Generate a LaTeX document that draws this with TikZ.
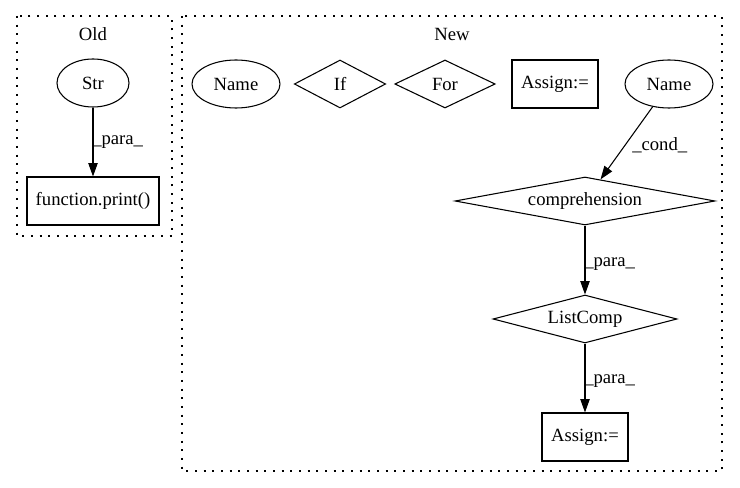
\documentclass[tikz,border=0pt]{standalone}
\usepackage{fontspec}
\setmainfont{Liberation Serif}
\usetikzlibrary{shapes.geometric,arrows.meta}
\begin{document}
\begin{tikzpicture}[x=0.75pt,y=-0.75pt,
  every node/.style={font=\fontsize{14}{16}\selectfont},
  base/.style={draw,line width=0.8pt,inner sep=0pt},
  ell/.style={base,ellipse,minimum height=36pt},
  boxnode/.style={base,rectangle,minimum height=36pt},
  dia/.style={base,diamond,aspect=6,minimum height=36pt},
  cluster/.style={draw,line width=0.8pt,dash pattern=on 1.5pt off 5pt},
  edge/.style={draw,line width=0.8pt,-{Triangle[length=10pt,width=7pt]}},
  lbl/.style={anchor=west,inner sep=0pt}]
\useasboundingbox (0,0) rectangle (740,488);

% clusters
\draw[cluster] (17,16) rectangle (172,236);
\node (oldtitle) at (93,34) {Old};
\draw[cluster] (182,16) rectangle (722,471);
\node (newtitle) at (452,34) {New};

% Old
\node[ell,minimum width=54pt] (str) at (93,83) {Str};
\node[boxnode,minimum width=99pt] (fprint) at (93,201) {function.print()};
\draw[edge] (str) -- (fprint);
\node[lbl] (l1) at (92,142) {\_para\_};

% New
\node[ell,minimum width=66pt] (name1) at (236,84) {Name};
\node[dia,minimum width=55.5pt] (if) at (340,84) {If};
\node[dia,minimum width=68pt] (for) at (445,84) {For};
\node[boxnode,minimum width=64.5pt] (assign1) at (555,84) {Assign:=};
\node[ell,minimum width=66pt] (name2) at (669,84) {Name};
\node[dia,minimum width=195pt] (comp) at (585,201) {comprehension};
\node[dia,minimum width=138pt] (lc) at (585,319) {ListComp};
\node[boxnode,minimum width=64.5pt] (assign2) at (585,437) {Assign:=};

\draw[edge] (name2) -- (comp);
\node[lbl] (l2) at (632,145) {\_cond\_};
\draw[edge] (comp) -- (lc);
\node[lbl] (l3) at (584,264) {\_para\_};
\draw[edge] (lc) -- (assign2);
\node[lbl] (l4) at (584,381) {\_para\_};
\end{tikzpicture}
\end{document}
